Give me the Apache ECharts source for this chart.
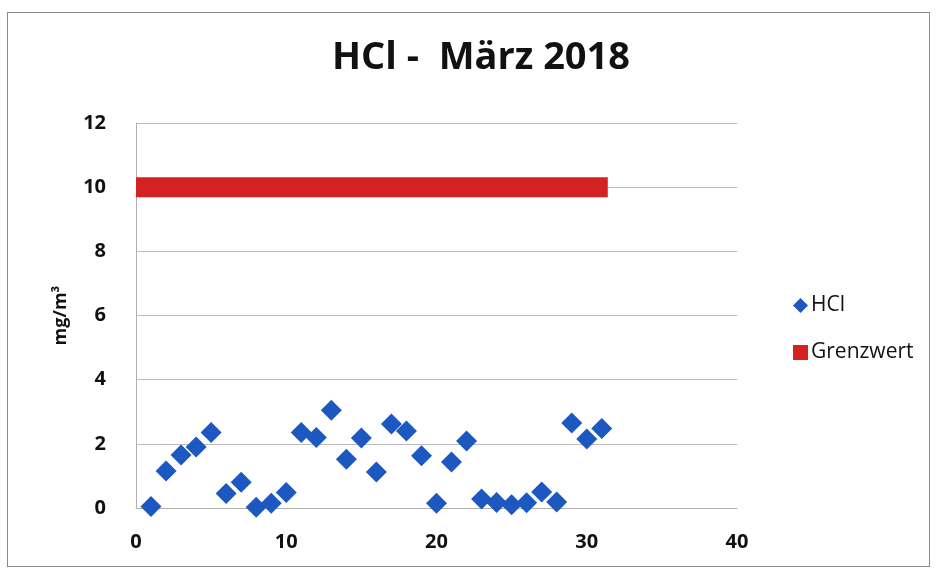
<!DOCTYPE html>
<html><head><meta charset="utf-8">
<script src="https://cdn.jsdelivr.net/npm/echarts@6/dist/echarts.min.js"></script>
<style>
html,body{margin:0;padding:0;background:#fff;}
#frame{position:absolute;left:7px;top:12px;width:921px;height:553px;border:1px solid #8a8a8a;}
#c{position:absolute;left:0;top:0;width:937px;height:571px;}
</style></head>
<body>
<div id="frame"></div>
<div id="c"></div>
<script>
const days = [1,2,3,4,5,6,7,8,9,10,11,12,13,14,15,16,17,18,19,20,21,22,23,24,25,26,27,28,29,30,31];
const hclValues = [0.05,1.15,1.65,1.9,2.35,0.45,0.8,0.02,0.15,0.48,2.35,2.2,3.05,1.52,2.18,1.12,2.62,2.4,1.63,0.15,1.43,2.09,0.28,0.17,0.1,0.16,0.5,0.19,2.65,2.15,2.48];
const grenzX = [0, 31.4];
const grenzY = [10, 10];
const title = 'HCl -  März 2018';
const yName = 'mg/m³';

const chart = echarts.init(document.getElementById('c'));
const font = 'Open Sans';
chart.setOption({
  backgroundColor: 'transparent',
  animation: false,
  title: {text: title, left: 476, top: 34, textAlign: 'center',
    textStyle: {fontFamily: font, fontWeight: 'bold', fontSize: 38, color: '#111'}},
  legend: {orient: 'vertical', left: 788, top: 290, itemGap: 26, itemWidth: 15, itemHeight: 15,
    textStyle: {fontFamily: font, fontSize: 21, color: '#111', padding: [0, 0, 0, -2]},
    data: [{name: 'HCl', icon: 'diamond'}, {name: 'Grenzwert', icon: 'rect'}]},
  grid: {left: 136, right: 200, top: 123, bottom: 63},
  xAxis: {type: 'value', min: 0, max: 40, interval: 10,
    axisLine: {show: true, lineStyle: {color: '#b0b0b0'}}, axisTick: {show: false},
    splitLine: {show: false},
    axisLabel: {fontFamily: font, fontWeight: 'bold', fontSize: 20, color: '#111', margin: 24}},
  yAxis: {type: 'value', min: 0, max: 12, interval: 2, name: yName, nameLocation: 'middle', nameGap: 66,
    nameTextStyle: {fontFamily: font, fontWeight: 'bold', fontSize: 18, color: '#111'},
    axisLine: {show: true, lineStyle: {color: '#b0b0b0'}}, axisTick: {show: false},
    splitLine: {show: true, lineStyle: {color: '#bcbcbc'}},
    axisLabel: {fontFamily: font, fontWeight: 'bold', fontSize: 20, color: '#111', margin: 30}},
  series: [
    {name: 'HCl', type: 'scatter', symbol: 'diamond', symbolSize: 21,
      itemStyle: {color: '#1c58c0', opacity: 1},
      data: days.map((d, i) => [d, hclValues[i]])},
    {name: 'Grenzwert', type: 'line', symbol: 'none', clip: true,
      itemStyle: {color: '#d42222'},
      lineStyle: {color: '#d42222', width: 20, cap: 'butt'},
      data: grenzX.map((x, i) => [x, grenzY[i]])}
  ]
});
</script>
</body></html>
